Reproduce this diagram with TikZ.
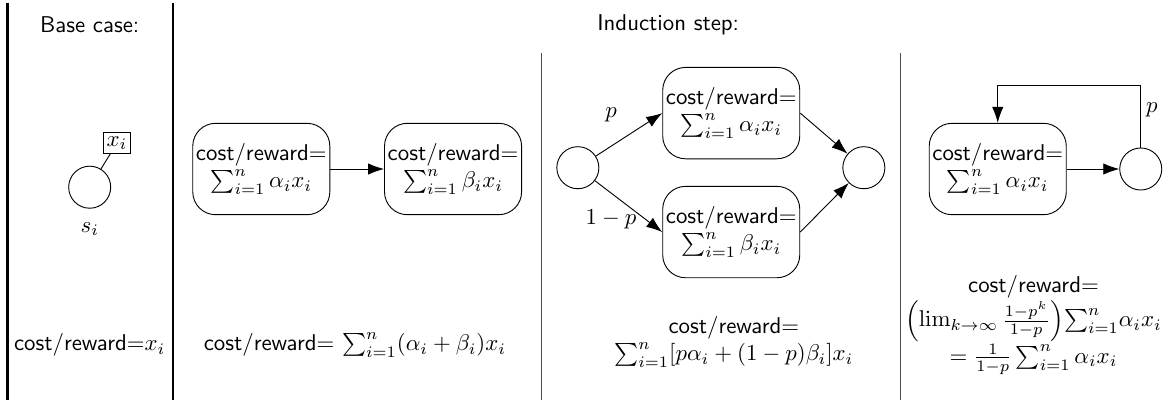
\documentclass[tikz,border=0pt]{standalone}
\usepackage{amsmath,amssymb}
\usetikzlibrary{positioning, arrows.meta, calc}

\begin{document}
\begin{tikzpicture}[font=\sffamily,
    state/.style={draw, circle, minimum size=18.4pt, inner sep=0pt},
    costbox/.style={draw, rounded corners=10pt, align=center, minimum width=60pt, minimum height=40pt, inner sep=1pt},
    arr/.style={-{Latex[length=7pt, width=5pt]}}]
    \useasboundingbox (0,0) rectangle (18,-6.2);

    % Separators
    \draw[line width=1.2pt] (0.12,-0.05) -- (0.12,-6.15);
    \draw[line width=1.2pt] (2.66,-0.05) -- (2.66,-6.15);
    \draw[thin, black!70] (8.33,-0.82) -- (8.33,-6.15);
    \draw[thin, black!70] (13.85,-0.82) -- (13.85,-6.15);

    % Headings
    \node (hbase) at (1.38,-0.38) {Base case:};
    \node (hind) at (10.28,-0.38) {Induction step:};

    % Base case
    \node[state] (s) at (1.38,-2.88) {};
    \node[draw, inner sep=1.5pt] (xi) at (1.8,-2.2) {$x_i$};
    \draw (s) -- (xi);
    \node (si) at (1.38,-3.52) {$s_i$};
    \node (base) at (1.38,-5.31) {cost/reward${=}x_i$};

    % Sequence
    \node[costbox] (a1) at (4.02,-2.6) {cost/reward$=$\\$\sum_{i=1}^n \alpha_i x_i$};
    \node[costbox] (a2) at (6.97,-2.6) {cost/reward$=$\\$\sum_{i=1}^n \beta_i x_i$};
    \draw[arr] (a1) -- (a2);
    \node (seq) at (5.46,-5.31) {cost/reward$=$ $\sum_{i=1}^n(\alpha_i+\beta_i)x_i$};

    % Branching
    \node[state] (l3) at (8.89,-2.58) {};
    \node[costbox] (b1) at (11.25,-1.74) {cost/reward$=$\\$\sum_{i=1}^n \alpha_i x_i$};
    \node[costbox] (b2) at (11.25,-3.57) {cost/reward$=$\\$\sum_{i=1}^n \beta_i x_i$};
    \node[state] (r3) at (13.29,-2.58) {};
    \draw[arr] (l3) -- (b1.west);
    \draw[arr] (l3) -- (b2.west);
    \draw[arr] (b1.east) -- (r3);
    \draw[arr] (b2.east) -- (r3);
    \node (p3) at (9.4,-1.77) {$p$};
    \node (q3) at (9.4,-3.38) {$1-p$};
    \node[align=center] (branch) at (11.29,-5.26) {cost/reward$=$\\$\sum_{i=1}^n[p\alpha_i+(1-p)\beta_i]x_i$};

    % Loop
    \node[costbox] (c1) at (15.35,-2.6) {cost/reward$=$\\$\sum_{i=1}^n \alpha_i x_i$};
    \node[state] (r4) at (17.55,-2.6) {};
    \draw[arr] (c1) -- (r4);
    \draw[arr] (r4.north) |- ([yshift=0.57cm]c1.north) -- (c1.north);
    \node (p4) at (17.72,-1.69) {$p$};
    \node[align=center] (loop) at (15.9,-5.0) {cost/reward$=$\\$\left(\lim_{k\to\infty}\frac{1-p^k}{1-p}\right)\!\sum_{i=1}^n\!\alpha_i x_i$\\$=\frac{1}{1-p}\sum_{i=1}^n \alpha_i x_i$};
\end{tikzpicture}
\end{document}
